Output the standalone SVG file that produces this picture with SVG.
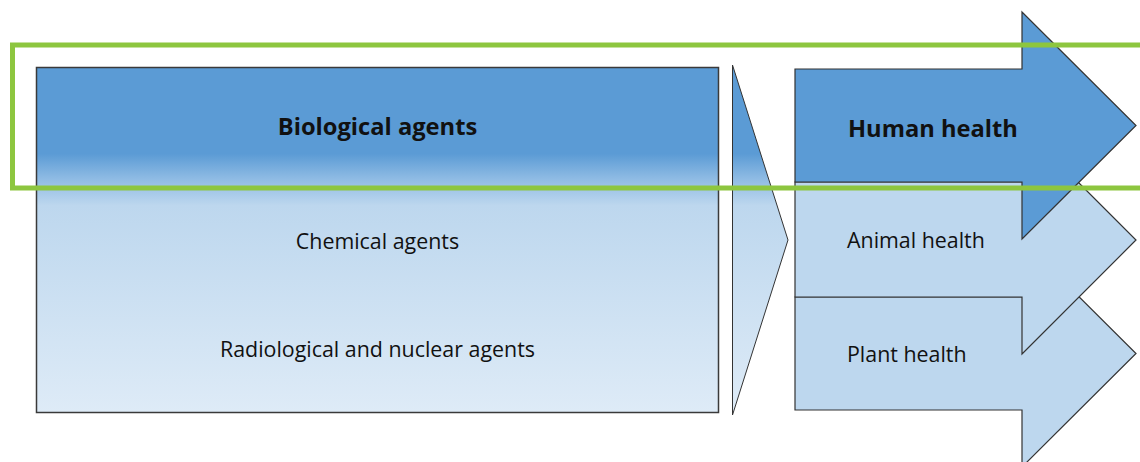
<svg xmlns="http://www.w3.org/2000/svg" width="1140" height="462" viewBox="0 0 1140 462">
  <style>
    .lbl { font-family: "Open Sans", "Liberation Sans", Arial, sans-serif; fill: #111; }
    .reg { font-size: 21.4px; }
    .bold { font-size: 23.7px; font-weight: bold; }
    .arrow { stroke: #333; stroke-width: 1.2; stroke-linejoin: miter; }
    .dark { fill: #5b9bd5; }
    .light { fill: #bdd7ee; }
  </style>
  <defs>
    <linearGradient id="agentGrad" gradientUnits="userSpaceOnUse" x1="0" y1="67.5" x2="0" y2="412.5">
      <stop offset="0" stop-color="#5b9bd5"/>
      <stop offset="0.25" stop-color="#5b9bd5"/>
      <stop offset="0.32" stop-color="#8dbae3"/>
      <stop offset="0.40" stop-color="#bdd7ee"/>
      <stop offset="1" stop-color="#deebf7"/>
    </linearGradient>
  </defs>

  <g id="agents">
    <rect x="36.5" y="67.5" width="682" height="345" fill="url(#agentGrad)" stroke="#3a3a3a" stroke-width="1.5"/>
    <text class="lbl bold" x="377.5" y="135" text-anchor="middle">Biological agents</text>
    <text class="lbl reg" x="377.5" y="249" text-anchor="middle">Chemical agents</text>
    <text class="lbl reg" x="377.5" y="357" text-anchor="middle">Radiological and nuclear agents</text>
  </g>

  <g id="connectors">
    <polygon points="732.5,65 788,240 732.5,415" fill="url(#agentGrad)" stroke="#333" stroke-width="1"/>
  </g>

  <g id="plant-health">
    <polygon class="arrow light" points="795,297 1022,297 1022,240 1136,353.5 1022,467 1022,410 795,410"/>
    <text class="lbl reg" x="847" y="362">Plant health</text>
  </g>

  <g id="animal-health">
    <polygon class="arrow light" points="795,182 1022,182 1022,126 1136,240 1022,354 1022,297 795,297"/>
    <text class="lbl reg" x="847" y="248">Animal health</text>
  </g>

  <g id="human-health">
    <polygon class="arrow dark" points="795,69 1022,69 1022,12 1136,125.5 1022,239 1022,182 795,182"/>
    <text class="lbl bold" x="848" y="137">Human health</text>
  </g>

  <g id="highlight">
    <rect x="12.5" y="45" width="1140" height="143" fill="none" stroke="#8dc63f" stroke-width="5"/>
  </g>
</svg>
